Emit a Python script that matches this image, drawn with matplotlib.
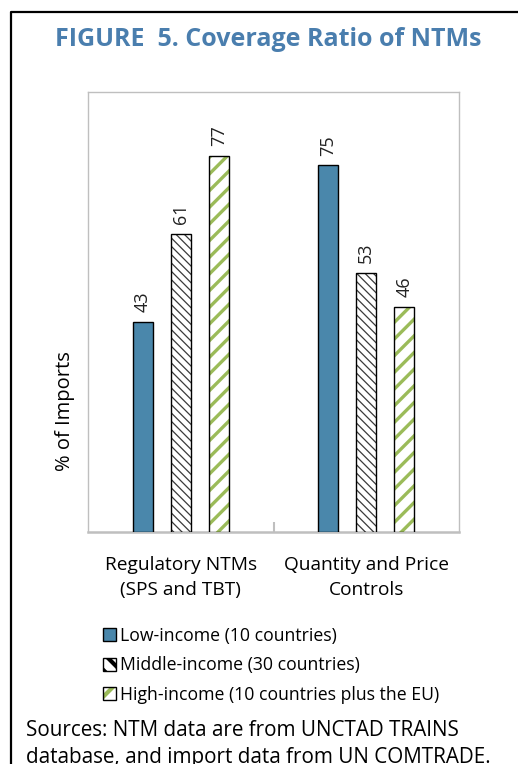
import matplotlib.pyplot as plt
import matplotlib.patches as mpatches
import numpy as np

plt.rcParams['font.family'] = ['Open Sans', 'DejaVu Sans']

categories = ['Regulatory NTMs\n(SPS and TBT)', 'Quantity and Price\nControls']
groups = ['Low-income (10 countries)', 'Middle-income (30 countries)',
          'High-income (10 countries plus the EU)']
low_income = [43, 75]
middle_income = [61, 53]
high_income = [77, 46]

blue = '#4A87AB'
green = '#9BBB59'
title_col = '#4A7EAE'

fig = plt.figure(figsize=(5.18, 7.64), dpi=100)
ax = fig.add_axes([88 / 518, 1 - 532 / 764, (459 - 88) / 518, (532 - 92) / 764])

x = np.arange(len(categories))
w = 0.108
gap = 0.205

# low income - solid
b1 = ax.bar(x - gap, low_income, w, color=blue, edgecolor='black', linewidth=1.0, zorder=3)

# middle income - dense dark hatch
plt.rcParams['hatch.linewidth'] = 0.9
ax.bar(x, middle_income, w, color='white', edgecolor='#3a3a3a', hatch='\\\\\\\\',
       linewidth=0, zorder=3)
b2 = ax.bar(x, middle_income, w, fill=False, edgecolor='black', linewidth=1.0, zorder=4)

# high income - wide green stripes
plt.rcParams['hatch.linewidth'] = 2.4
ax.bar(x + gap, high_income, w, color='white', edgecolor=green, hatch='//',
       linewidth=0, zorder=3)
b3 = ax.bar(x + gap, high_income, w, fill=False, edgecolor='black', linewidth=1.0, zorder=4)

for bars, vals in [(b1, low_income), (b2, middle_income), (b3, high_income)]:
    for rect, v in zip(bars, vals):
        ax.annotate(str(v), (rect.get_x() + rect.get_width() / 2, rect.get_height()),
                    xytext=(0, 7), textcoords='offset points', rotation=90,
                    ha='center', va='bottom', fontsize=13, color='#222222')

ax.set_xlim(-0.5, 1.5)
ax.set_ylim(0, 90)
ax.set_yticks([])
ax.set_xticks(x)
ax.set_xticklabels(categories, fontsize=13.8, linespacing=1.55)
ax.tick_params(axis='x', length=0, pad=17)
ax.set_xticks([0.5], minor=True)
ax.tick_params(axis='x', which='minor', direction='in', length=7, width=1.5, color='#BFBFBF')
for s in ax.spines.values():
    s.set_color('#BFBFBF')
    s.set_linewidth(1.0)
ax.spines['bottom'].set_linewidth(1.8)

ax.set_ylabel('% of Imports', fontsize=14.5)
ax.yaxis.set_label_coords(-0.035, 0.275)

# title
fig.text(268 / 518, 1 - 40 / 764, 'FIGURE  5. Coverage Ratio of NTMs', ha='center', va='center',
         fontsize=18, fontweight='bold', color=title_col)

# legend
plt.rcParams['hatch.linewidth'] = 1.0
mid_handle = mpatches.Patch(facecolor='white', edgecolor='black', hatch='\\\\', linewidth=1.0)
plt.rcParams['hatch.linewidth'] = 3.0
high_fill = mpatches.Patch(facecolor='white', edgecolor=green, hatch='/', linewidth=0)
handles = [
    mpatches.Patch(facecolor=blue, edgecolor='black', linewidth=1.0),
    mid_handle,
    (high_fill, mpatches.Patch(fill=False, edgecolor='black', linewidth=1.0)),
]
leg = fig.legend(handles, groups, loc='upper left', bbox_to_anchor=(94 / 518, 1 - 618 / 764),
                 frameon=False, fontsize=12.7, handlelength=0.75, handleheight=0.75,
                 handletextpad=0.25, labelspacing=0.66, borderpad=0)

# sources text
fig.text(26 / 518, 1 - 731 / 764, 'Sources: NTM data are from UNCTAD TRAINS', ha='left', va='center',
         fontsize=14.9, color='black')
fig.text(26 / 518, 1 - 757 / 764, 'database, and import data from UN COMTRADE.', ha='left',
         va='center', fontsize=14.9, color='black')

# outer box
fig.add_artist(plt.Line2D([11 / 518, 11 / 518, 1.0], [0, 1 - 12 / 764, 1 - 12 / 764],
                          transform=fig.transFigure, color='black', linewidth=1.6))

fig.savefig('out.png', dpi=100)
